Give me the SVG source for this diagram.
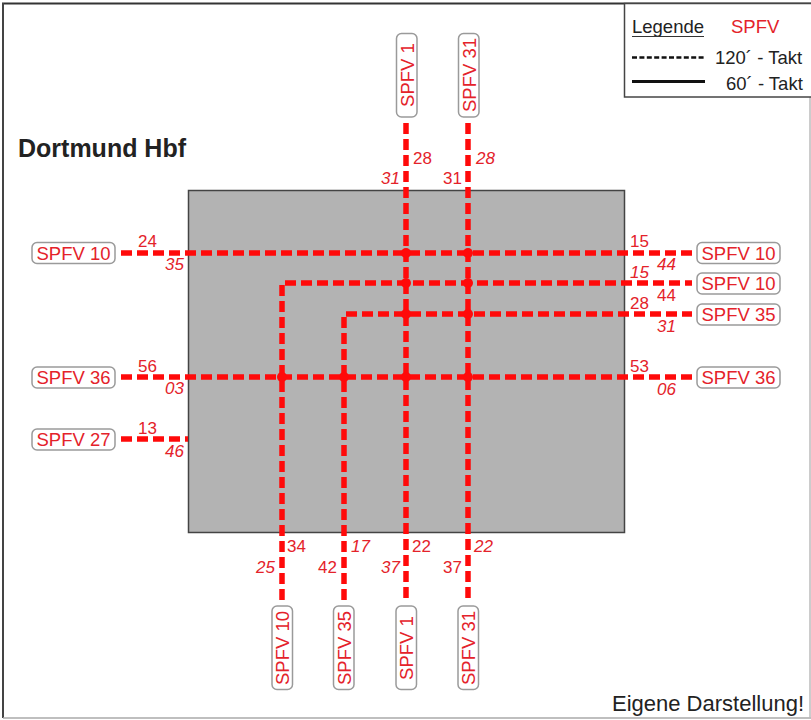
<svg xmlns="http://www.w3.org/2000/svg" width="811" height="720" viewBox="0 0 811 720">
<style>
.lbl{fill:#fff;stroke:#9a9a9a;stroke-width:1.5}
.lt{font-family:"Liberation Sans",Arial,sans-serif;font-size:18.5px;fill:#e4222a}
.num{font-family:"Liberation Sans",Arial,sans-serif;font-size:17px;fill:#e4222a}
.it{font-style:italic}
.rl{fill:none;stroke:#ff0a0a;stroke-width:5.5;stroke-dasharray:11 5}
.dot{fill:#ff0a0a}
.blk{font-family:"Liberation Sans",Arial,sans-serif;fill:#222}
</style>
<rect x="0" y="0" width="811" height="720" fill="#fff"/>
<g id="frame" fill="none">
<line x1="2" y1="3.5" x2="811" y2="3.5" stroke="#333" stroke-width="2"/>
<line x1="3" y1="3" x2="3" y2="718" stroke="#444" stroke-width="2"/>
<line x1="3" y1="718" x2="811" y2="718" stroke="#aaa" stroke-width="1.5"/>
<line x1="810" y1="3" x2="810" y2="718" stroke="#bbb" stroke-width="1.5"/>
</g>
<g id="station">
<rect x="188.5" y="190.5" width="436" height="342" fill="#b3b3b3" stroke="#444" stroke-width="1.5"/>
</g>
<text class="blk" x="18" y="157" font-size="25" font-weight="bold" fill="#111">Dortmund Hbf</text>
<g id="legend">
<rect x="624.5" y="3.5" width="190" height="93.5" fill="#fff" stroke="#444" stroke-width="1.5"/>
<text class="blk" x="632" y="33" font-size="18.5" fill="#333">Legende</text>
<line x1="632" y1="36.5" x2="704" y2="36.5" stroke="#333" stroke-width="1.2"/>
<text x="731" y="33" font-family="Liberation Sans,Arial,sans-serif" font-size="18.5" fill="#e4222a">SPFV</text>
<line x1="632" y1="57.5" x2="705" y2="57.5" stroke="#111" stroke-width="2.5" stroke-dasharray="5 2.4"/>
<text class="blk" x="715" y="64" font-size="18.5">120´ - Takt</text>
<line x1="632" y1="81.5" x2="705" y2="81.5" stroke="#111" stroke-width="3"/>
<text class="blk" x="726" y="90" font-size="18.5">60´ - Takt</text>
</g>
<g id="connectors">
<path class="rl" d="M121 253H692"/>
<path class="rl" d="M282 600V283H692"/>
<path class="rl" d="M344 600V314H692"/>
<path class="rl" d="M121 377H692"/>
<path class="rl" d="M121 439H188"/>
<path class="rl" d="M406 123V600"/>
<path class="rl" d="M468 123V600"/>
<g class="dot">
<circle cx="406" cy="253" r="5"/><circle cx="468" cy="253" r="5"/>
<circle cx="406" cy="283" r="5"/><circle cx="468" cy="283" r="5"/>
<circle cx="406" cy="314" r="5"/><circle cx="468" cy="314" r="5"/>
<circle cx="282" cy="377" r="5"/><circle cx="344" cy="377" r="5"/>
<circle cx="406" cy="377" r="5"/><circle cx="468" cy="377" r="5"/>
</g>
</g>
<g id="times">
<text class="num" x="138" y="247">24</text><text class="num it" x="165" y="270">35</text>
<text class="num" x="138" y="372">56</text><text class="num it" x="165" y="394">03</text>
<text class="num" x="138" y="434">13</text><text class="num it" x="165" y="457">46</text>
<text class="num" x="630" y="247">15</text><text class="num it" x="657" y="270">44</text>
<text class="num it" x="630" y="278">15</text><text class="num" x="657" y="301">44</text>
<text class="num" x="630" y="309">28</text><text class="num it" x="657" y="332">31</text>
<text class="num" x="630" y="372">53</text><text class="num it" x="657" y="395">06</text>
<text class="num" x="413" y="164">28</text><text class="num it" x="381" y="184">31</text>
<text class="num it" x="476" y="164">28</text><text class="num" x="443" y="184">31</text>
<text class="num" x="287" y="552">34</text><text class="num it" x="256" y="573">25</text>
<text class="num it" x="351" y="552">17</text><text class="num" x="318" y="573">42</text>
<text class="num" x="412" y="552">22</text><text class="num it" x="381" y="573">37</text>
<text class="num it" x="474" y="552">22</text><text class="num" x="443" y="573">37</text>
</g>
<g id="n-l10"><rect class="lbl" x="32" y="242.5" width="83" height="21" rx="5"/><text class="lt" x="73.5" y="259.5" text-anchor="middle">SPFV 10</text></g>
<g id="n-l36"><rect class="lbl" x="32" y="367" width="83" height="21" rx="5"/><text class="lt" x="73.5" y="384" text-anchor="middle">SPFV 36</text></g>
<g id="n-l27"><rect class="lbl" x="32" y="429" width="83" height="21" rx="5"/><text class="lt" x="73.5" y="446" text-anchor="middle">SPFV 27</text></g>
<g id="n-r10a"><rect class="lbl" x="697" y="242.5" width="83" height="21" rx="5"/><text class="lt" x="738.5" y="259.5" text-anchor="middle">SPFV 10</text></g>
<g id="n-r10b"><rect class="lbl" x="697" y="273" width="83" height="21" rx="5"/><text class="lt" x="738.5" y="290" text-anchor="middle">SPFV 10</text></g>
<g id="n-r35"><rect class="lbl" x="697" y="304" width="83" height="21" rx="5"/><text class="lt" x="738.5" y="321" text-anchor="middle">SPFV 35</text></g>
<g id="n-r36"><rect class="lbl" x="697" y="367" width="83" height="21" rx="5"/><text class="lt" x="738.5" y="384" text-anchor="middle">SPFV 36</text></g>
<g id="n-t1"><rect class="lbl" x="396.5" y="33.5" width="20.5" height="83.5" rx="5"/><text class="lt" transform="translate(413.5 75) rotate(-90)" text-anchor="middle">SPFV 1</text></g>
<g id="n-t31"><rect class="lbl" x="458.5" y="33.5" width="20.5" height="83.5" rx="5"/><text class="lt" transform="translate(475.5 75) rotate(-90)" text-anchor="middle">SPFV 31</text></g>
<g id="n-b10"><rect class="lbl" x="272" y="606" width="20.5" height="83.5" rx="5"/><text class="lt" transform="translate(289 648) rotate(-90)" text-anchor="middle">SPFV 10</text></g>
<g id="n-b35"><rect class="lbl" x="333.5" y="606" width="20.5" height="83.5" rx="5"/><text class="lt" transform="translate(350.5 648) rotate(-90)" text-anchor="middle">SPFV 35</text></g>
<g id="n-b1"><rect class="lbl" x="396" y="606" width="20.5" height="83.5" rx="5"/><text class="lt" transform="translate(413 648) rotate(-90)" text-anchor="middle">SPFV 1</text></g>
<g id="n-b31"><rect class="lbl" x="458" y="606" width="20.5" height="83.5" rx="5"/><text class="lt" transform="translate(475 648) rotate(-90)" text-anchor="middle">SPFV 31</text></g>
<text class="blk" x="612" y="711" font-size="22">Eigene Darstellung!</text>
</svg>
